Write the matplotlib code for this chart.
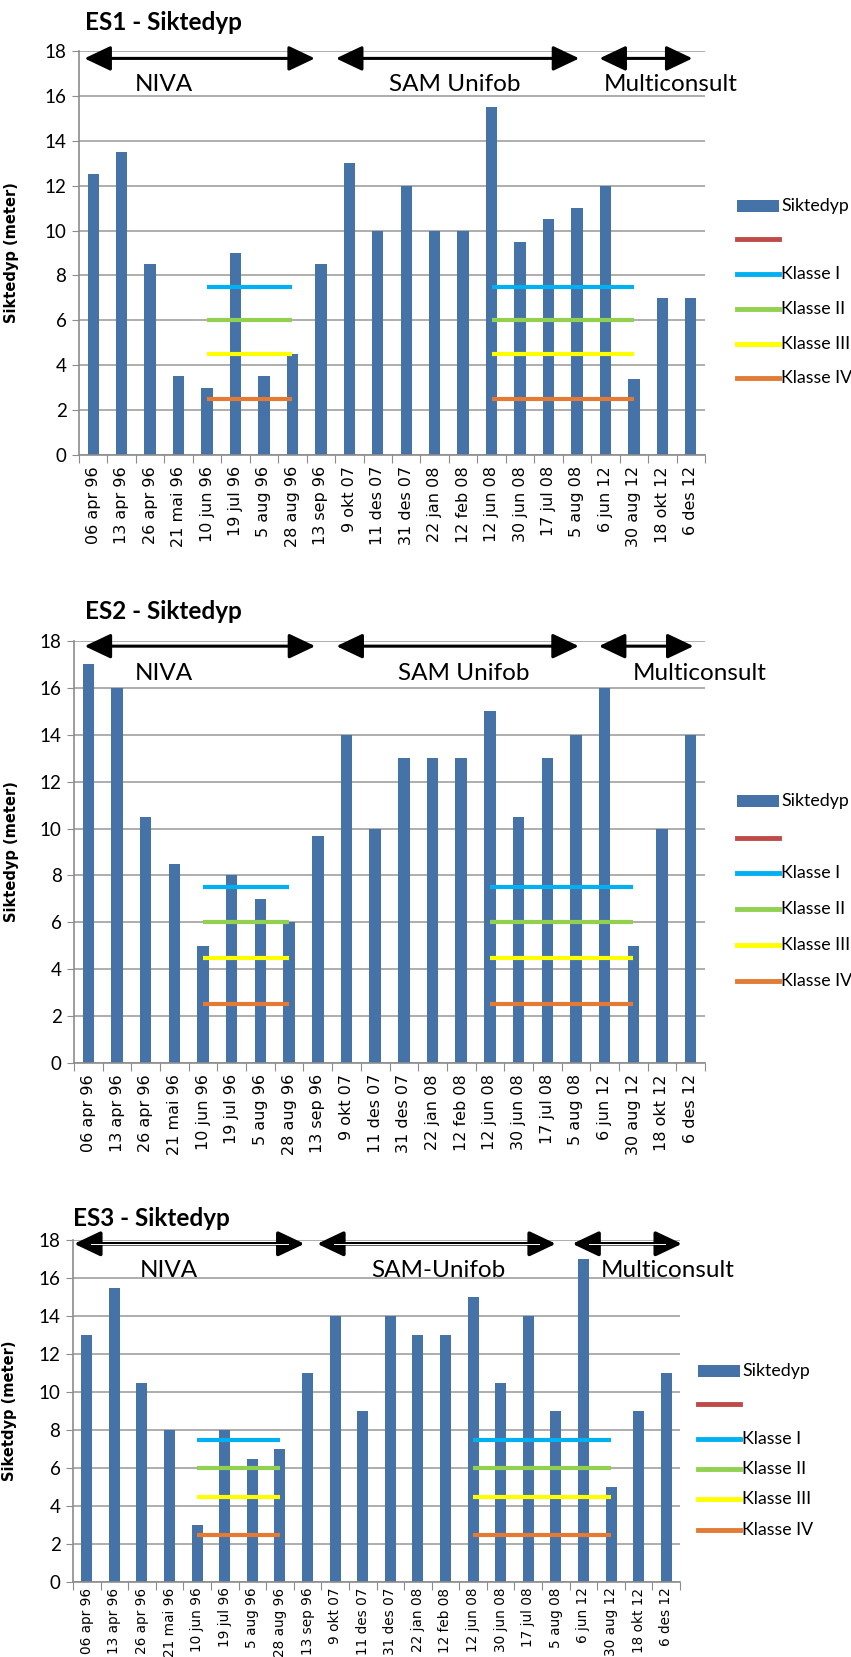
import numpy as np
import matplotlib; matplotlib.use("Agg")
import matplotlib.pyplot as plt
from matplotlib.patches import Rectangle
from matplotlib.lines import Line2D

W, H = 851, 1657

dates = ["06 apr 96", "13 apr 96", "26 apr 96", "21 mai 96", "10 jun 96", "19 jul 96",
         "5 aug 96", "28 aug 96", "13 sep 96", "9 okt 07", "11 des 07", "31 des 07",
         "22 jan 08", "12 feb 08", "12 jun 08", "30 jun 08", "17 jul 08", "5 aug 08",
         "6 jun 12", "30 aug 12", "18 okt 12", "6 des 12"]

es1 = [12.5, 13.5, 8.5, 3.5, 3, 9, 3.5, 4.5, 8.5, 13, 10, 12, 10, 10, 15.5, 9.5, 10.5, 11, 12, 3.4, 7, 7]
es2 = [17, 16, 10.5, 8.5, 5, 8, 7, 6, 9.7, 14, 10, 13, 13, 13, 15, 10.5, 13, 14, 16, 5, 10, 14]
es3 = [13, 15.5, 10.5, 8, 3, 8, 6.5, 7, 11, 14, 9, 14, 13, 13, 15, 10.5, 14, 9, 17, 5, 9, 11]

# class limits (meter) and the sample ranges they are drawn over
klasse_names = ["Klasse I", "Klasse II", "Klasse III", "Klasse IV"]
klasse_vals = [7.5, 6.0, 4.5, 2.5]
klasse_cols = ["#00B0F0", "#92D050", "#FFFF00", "#E47B34"]
klasse_ranges = [("10 jun 96", "28 aug 96"), ("12 jun 08", "30 aug 12")]

BAR = "#4572A7"
GRID = "#A0A0A0"
SPINE = "#8C8C8C"
SANS = ["Lato", "DejaVu Sans"]

# per panel: title, values, ylabel, group names, arrows (x0, x1), label x,
# axes box in pixels (left, top, right, bottom), legend (x, rows)
panels = [
    dict(title="ES1 - Siktedyp", vals=es1, ylab="Siktedyp (meter)",
         groups=["NIVA", "SAM Unifob", "Multiconsult"],
         arrows=[(-0.31, 7.79), (8.53, 17.08), (17.79, 21.06)], arrow_y=17.67,
         text_x=[2.47, 12.7, 20.3], text_y=16.5,
         box=(79, 51, 705, 455), title_xy=(85, 22), ylab_x=19,
         leg_x=737, leg_rows=[206, 239, 274, 309, 344, 378], lfs=12.8,
         xfs=11.5, xpad=8, double=False),
    dict(title="ES2 - Siktedyp", vals=es2, ylab="Siktedyp (meter)",
         groups=["NIVA", "SAM Unifob", "Multiconsult"],
         arrows=[(-0.13, 7.91), (8.65, 17.1), (17.8, 21.1)], arrow_y=17.78,
         text_x=[2.64, 13.1, 21.3], text_y=16.6,
         box=(74, 641, 705, 1063), title_xy=(85, 612), ylab_x=19,
         leg_x=737, leg_rows=[801, 838, 873, 909, 945, 981], lfs=12.8,
         xfs=11.5, xpad=8, double=False),
    dict(title="ES3 - Siktedyp", vals=es3, ylab="Siketdyp (meter)",
         groups=["NIVA", "SAM-Unifob", "Multiconsult"],
         arrows=[(-0.46, 7.89), (8.35, 17.0), (17.6, 21.57)], arrow_y=17.8,
         text_x=[2.99, 12.76, 21.07], text_y=16.4,
         box=(73, 1240, 680, 1582), title_xy=(73, 1219), ylab_x=17,
         leg_x=698, leg_rows=[1371, 1404, 1439, 1469, 1499, 1530], lfs=12.8,
         xfs=9.8, xpad=4, double=True),
]

fig = plt.figure(figsize=(W / 100, H / 100), dpi=100)
x = np.arange(len(dates))


def fx(px):
    return px / W


def fy(py):
    return 1 - py / H


for p in panels:
    l, t, r, b = p["box"]
    ax = fig.add_axes([fx(l), fy(b), (r - l) / W, (b - t) / H])
    ax.bar(x, p["vals"], width=0.4, color=BAR, zorder=2)
    for a, z in klasse_ranges:
        i0, i1 = dates.index(a), dates.index(z)
        for v, c in zip(klasse_vals, klasse_cols):
            ax.plot([i0, i1], [v, v], color=c, lw=3, solid_capstyle="butt", zorder=3)

    ax.set_xlim(-0.5, len(dates) - 0.5)
    ax.set_ylim(0, 18)
    ax.set_yticks(np.arange(0, 19, 2))
    ax.yaxis.grid(True, color=GRID, lw=1.2, zorder=0)
    ax.set_axisbelow(True)
    for s in ["top", "right"]:
        ax.spines[s].set_visible(False)
    for s in ["left", "bottom"]:
        ax.spines[s].set_color(SPINE)
        ax.spines[s].set_linewidth(1.2)
    ax.set_xticks(np.arange(-0.5, len(dates)), minor=False, labels=[])
    ax.set_xticks(x, minor=True, labels=dates)
    ax.tick_params(axis="x", which="major", length=6, color=SPINE, direction="out")
    ax.tick_params(axis="x", which="minor", length=0, pad=p["xpad"], labelrotation=90,
                   labelsize=p["xfs"])
    for lab in ax.get_xticklabels(minor=True):
        lab.set_fontfamily("DejaVu Sans")
    ax.tick_params(axis="y", length=5, color=SPINE, labelsize=13.5, pad=4)
    for lab in ax.get_yticklabels():
        lab.set_fontfamily(SANS)
    ax.set_ylabel(p["ylab"], fontsize=10.5, fontweight="bold", family="DejaVu Sans")
    ax.yaxis.set_label_coords((p["ylab_x"] - l) / (r - l), 0.5)

    # survey periods
    for (a0, a1), g, tx in zip(p["arrows"], p["groups"], p["text_x"]):
        ax.annotate("", xy=(a1, p["arrow_y"]), xytext=(a0, p["arrow_y"]),
                    arrowprops=dict(arrowstyle="<|-|>,head_length=0.95,head_width=0.45",
                                    color="black", lw=2.6 if p["double"] else 2.2,
                                    mutation_scale=17, shrinkA=0, shrinkB=0),
                    annotation_clip=False, zorder=5)
        if p["double"]:
            ax.plot([a0 + 0.6, a1 - 0.6], [p["arrow_y"]] * 2, color="white", lw=0.7,
                    zorder=6, clip_on=False)
        ax.text(tx, p["text_y"], g, ha="center", va="center", fontsize=17.5,
                family=SANS, zorder=5, clip_on=False)

    fig.text(fx(p["title_xy"][0]), fy(p["title_xy"][1]), p["title"], fontsize=17.5,
             fontweight="bold", family=SANS, ha="left", va="center")

    # legend drawn in figure pixels
    lx = p["leg_x"]
    hl = 42
    rows = p["leg_rows"]
    fig.add_artist(Rectangle((fx(lx), fy(rows[0] + 6)), hl / W, 12 / H,
                             facecolor=BAR, edgecolor="none", transform=fig.transFigure))
    fig.text(fx(lx + hl + 2), fy(rows[0]), "Siktedyp", fontsize=p["lfs"], family=SANS,
             va="center", ha="left")
    fig.add_artist(Line2D([fx(lx), fx(lx + hl)], [fy(rows[1])] * 2, color="#BE4B48", lw=3.5,
                          transform=fig.transFigure))
    for name, c, ry in zip(klasse_names, klasse_cols, rows[2:]):
        fig.add_artist(Line2D([fx(lx), fx(lx + hl)], [fy(ry)] * 2, color=c, lw=3.5,
                              transform=fig.transFigure))
        fig.text(fx(lx + hl + 2), fy(ry), name, fontsize=p["lfs"], family=SANS,
                 va="center", ha="left")

fig.savefig("out.png", dpi=100)
